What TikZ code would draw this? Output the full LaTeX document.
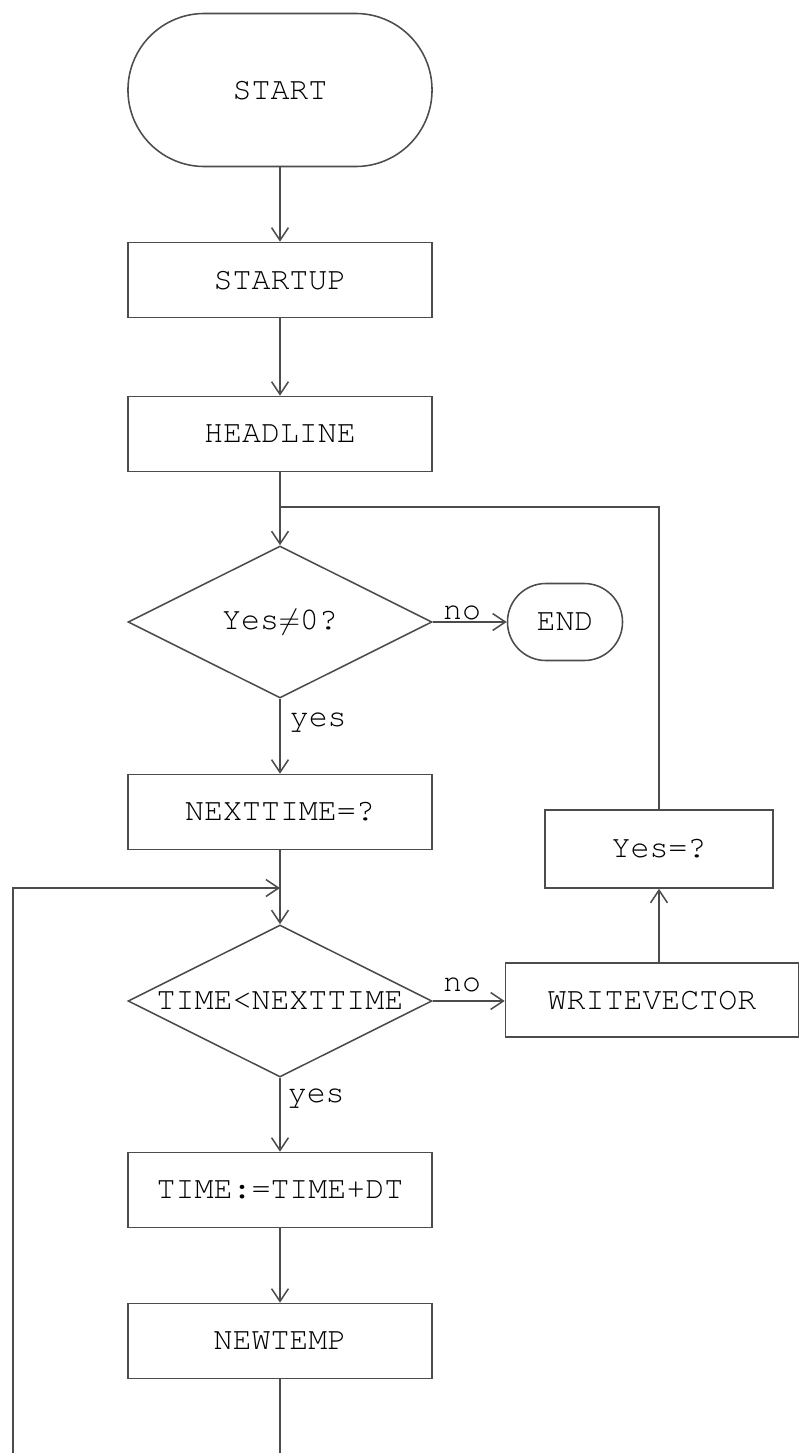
\documentclass[tikz,border=0pt]{standalone}
\usepackage[T1]{fontenc}
\usepackage{courier}
\usetikzlibrary{arrows.meta,shapes.geometric}

\begin{document}
\begin{tikzpicture}[x=0.025cm, y=-0.025cm,
  font=\fontsize{22.5}{27}\selectfont\ttfamily,
  line width=1.1pt, color=black!70,
  proc/.style={draw, rectangle, minimum width=76mm, minimum height=18.75mm,
    inner sep=0pt, text=black},
  term/.style={draw, rectangle, inner sep=0pt, text=black},
  test/.style={draw, diamond, inner sep=0pt, minimum width=76mm,
    minimum height=38mm, label={[text=black]center:#1}},
  flow/.style={-{Straight Barb[length=9pt,width=12pt]}},
  tag/.style={text=black, inner sep=0pt}]
\useasboundingbox (0,0) rectangle (802,1453);
% main column
\node[term, minimum width=76mm, minimum height=38.25mm, rounded corners=19.1mm]
  (start) at (280,90) {START};
\node[proc] (startup) at (280,280) {STARTUP};
\node[proc] (headline) at (280,434) {HEADLINE};
\node[test={Yes$\neq$0?}] (asknz) at (280,622) {};
\node[term, minimum width=28.75mm, minimum height=19.25mm, rounded corners=9.6mm]
  (end) at (565,622) {END};
\node[proc] (nexttime) at (280,812) {NEXTTIME=?};
\node[test={TIME<NEXTTIME}] (cmptime) at (280,1001) {};
\node[proc] (timestep) at (280,1190) {TIME:=TIME+DT};
\node[proc] (newtemp) at (280,1341) {NEWTEMP};
% right column
\node[proc, minimum width=57mm, minimum height=19.5mm] (askyes) at (659,849) {Yes=?};
\node[proc, minimum width=73.25mm, minimum height=18.5mm] (writevec) at (652,1000) {WRITEVECTOR};
% loose ends
\coordinate (join1) at (280,507);
\coordinate (join2) at (280,888);
\coordinate (loopout) at (280,1453);
\coordinate (loopin) at (13,1453);
% connectors
\draw[flow] (start) -- (startup);
\draw[flow] (startup) -- (headline);
\draw[flow] (headline) -- (asknz);
\draw (askyes.north) |- (join1);
\draw[flow] (asknz.east) -- (end.west);
\node[tag, anchor=base] (no1) at (462,619) {no};
\draw[flow] (asknz) -- (nexttime);
\node[tag, anchor=west] (yes1) at (289,722) {yes};
\draw[flow] (nexttime) -- (cmptime);
\draw[flow] (loopin) |- (join2);
\draw[flow] (cmptime.east) -- (cmptime.east -| writevec.west);
\node[tag, anchor=base] (no2) at (462,991) {no};
\draw[flow] (askyes.south |- writevec.north) -- (askyes.south);
\draw[flow] (cmptime) -- (timestep);
\node[tag, anchor=west] (yes2) at (287,1098) {yes};
\draw[flow] (timestep) -- (newtemp);
\draw (newtemp) -- (loopout);
\end{tikzpicture}
\end{document}
